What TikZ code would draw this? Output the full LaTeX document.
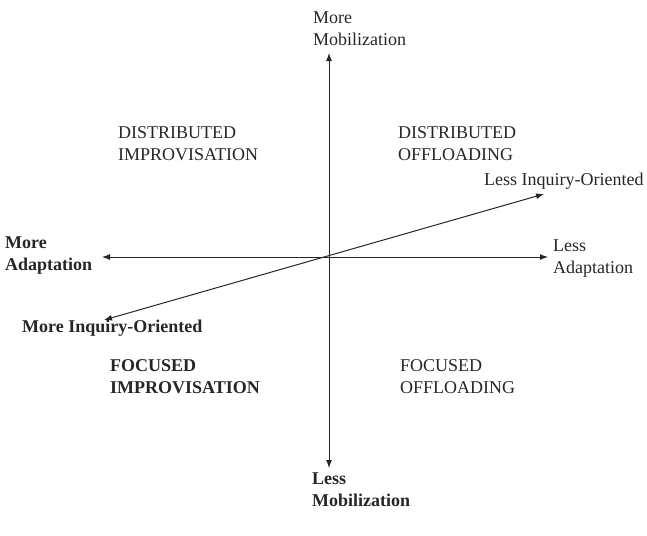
\documentclass[tikz,border=0pt]{standalone}
\usepackage{fontspec}
\setmainfont{Liberation Serif}
\usetikzlibrary{arrows.meta}

\begin{document}
\begin{tikzpicture}[x=1pt,y=-1pt,
  axis/.style={{Latex[length=8pt,width=6pt]}-{Latex[length=8pt,width=6pt]},line width=1pt,black!85},
  lbl/.style={inner sep=0pt,anchor=west,align=left,font=\fontsize{18}{22}\selectfont,text=black!85},
  boldlbl/.style={lbl,font=\fontsize{18}{22}\selectfont\bfseries}]
  \useasboundingbox (0,0) rectangle (647,535);

  % axis ends
  \coordinate (o) at (329,257);
  \coordinate (mobtop) at (329,53);
  \coordinate (mobbot) at (329,468);
  \coordinate (adleft) at (102,257);
  \coordinate (adright) at (548,257);
  \coordinate (inqleft) at (104,320);
  \coordinate (inqright) at (544,194);

  \draw[axis] (mobbot) -- (mobtop);
  \draw[axis] (adleft) -- (adright);
  \draw[axis] (inqleft) -- (inqright);

  % axis labels
  \node[lbl] (moremob) at (313,29) {More\\Mobilization};
  \node[boldlbl] (lessmob) at (312,490) {Less\\Mobilization};
  \node[boldlbl] (moread) at (5,256) {More\\Adaptation};
  \node[lbl] (lessad) at (553,259) {Less\\Adaptation};
  \node[lbl] (lessinq) at (484,181) {Less Inquiry-Oriented};
  \node[boldlbl] (moreinq) at (22,328) {More Inquiry-Oriented};

  % quadrants
  \node[lbl] (distimp) at (118,144) {DISTRIBUTED\\IMPROVISATION};
  \node[lbl] (distoff) at (398,144) {DISTRIBUTED\\OFFLOADING};
  \node[boldlbl] (focimp) at (110,377) {FOCUSED\\IMPROVISATION};
  \node[lbl] (focoff) at (400,377) {FOCUSED\\OFFLOADING};
\end{tikzpicture}
\end{document}
